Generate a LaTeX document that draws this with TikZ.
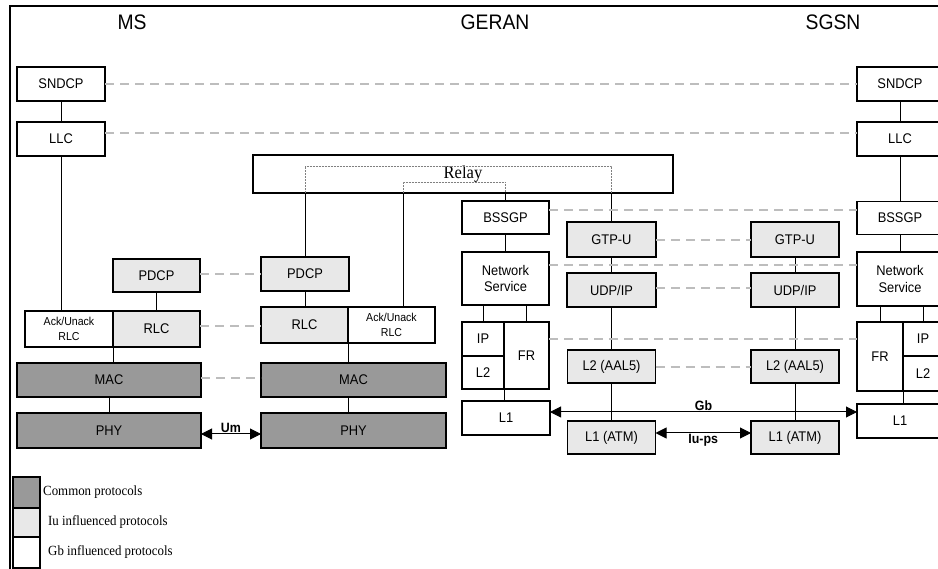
\documentclass[tikz,border=0pt]{standalone}
\usepackage{fontspec}
\setmainfont[FakeStretch=0.92]{Liberation Serif}
\setsansfont[FakeStretch=0.92]{Liberation Sans}
\usepackage{tikz}
\usetikzlibrary{arrows.meta,calc,positioning}
\definecolor{cmgray}{HTML}{999999}
\definecolor{iugray}{HTML}{E8E8E8}
\definecolor{peergray}{HTML}{BDBDBD}
\tikzset{
  pbox/.style={draw, line width=1.3pt, inner sep=0pt, outer sep=0pt, fill=white, align=center,
    font=\sffamily\fontsize{14}{16.5}\selectfont},
  iubox/.style={pbox, fill=iugray},
  cmbox/.style={pbox, fill=cmgray},
  small/.style={font=\sffamily\fontsize{11.5}{14.5}\selectfont},
  peer/.style={draw=peergray, line width=1.6pt, dash pattern=on 9pt off 6pt},
  link/.style={line width=1pt},
  relayln/.style={gray, line width=0.5pt, densely dotted},
  iface/.style={line width=1pt, {Triangle[length=11pt,width=11pt]}-{Triangle[length=11pt,width=11pt]}},
  lbl/.style={font=\sffamily\bfseries\fontsize{13.5}{15}\selectfont, inner sep=1pt},
  ttl/.style={font=\sffamily\fontsize{21}{23}\selectfont},
  leg/.style={font=\rmfamily\fontsize{14}{15}\selectfont, inner sep=0pt},
}

\begin{document}
\begin{tikzpicture}[x=1pt, y=-1pt]
    \useasboundingbox (0,0) rectangle (938,569);
    % frame and titles
    \draw[line width=1.5pt] (10,569) -- (10,6) -- (938,6);
    \node[ttl] (t_ms) at (132,22) {MS};
    \node[ttl] (t_geran) at (495,22) {GERAN};
    \node[ttl] (t_sgsn) at (833,22) {SGSN};

    % MS stack
    \node[pbox, minimum width=88pt, minimum height=34pt] (ms_sndcp) at (61,84) {SNDCP};
    \node[pbox, minimum width=88pt, minimum height=34pt] (ms_llc) at (61,139) {LLC};
    \node[iubox, minimum width=87pt, minimum height=33pt] (ms_pdcp) at (156.5,275.5) {PDCP};
    \node[pbox, small, minimum width=88pt, minimum height=36pt] (ms_ack) at (69,329) {Ack/Unack\\RLC};
    \node[iubox, minimum width=87pt, minimum height=36pt] (ms_rlc) at (156.5,329) {RLC};
    \node[cmbox, minimum width=184pt, minimum height=34pt] (ms_mac) at (109,380) {MAC};
    \node[cmbox, minimum width=184pt, minimum height=35pt] (ms_phy) at (109,430.5) {PHY};

    % GERAN radio side
    \node[pbox, font=\rmfamily\fontsize{18}{19}\selectfont, minimum width=420pt, minimum height=38pt] (g_relay) at (463,174) {Relay};
    \node[iubox, minimum width=88pt, minimum height=34pt] (g_pdcp) at (305,274) {PDCP};
    \node[iubox, minimum width=87pt, minimum height=36pt] (g_rlc) at (304.5,325) {RLC};
    \node[pbox, small, minimum width=87pt, minimum height=36pt] (g_ack) at (391.5,325) {Ack/Unack\\RLC};
    \node[cmbox, minimum width=185pt, minimum height=34pt] (g_mac) at (353.5,380) {MAC};
    \node[cmbox, minimum width=185pt, minimum height=35pt] (g_phy) at (353.5,430.5) {PHY};

    % GERAN Gb side
    \node[pbox, minimum width=87pt, minimum height=33pt] (g_bssgp) at (505.5,217.5) {BSSGP};
    \node[pbox, minimum width=87pt, minimum height=53pt] (g_ns) at (505.5,278.5) {Network\\Service};
    \node[pbox, minimum width=42pt, minimum height=34pt] (g_ip) at (483,339) {IP};
    \node[pbox, minimum width=42pt, minimum height=33pt] (g_l2) at (483,372.5) {L2};
    \node[pbox, minimum width=45pt, minimum height=67pt] (g_fr) at (526.5,355.5) {FR};
    \node[pbox, minimum width=88pt, minimum height=34pt] (g_l1) at (506,418) {L1};

    % GERAN Iu side
    \node[iubox, minimum width=89pt, minimum height=35pt] (g_gtpu) at (611.5,239.5) {GTP-U};
    \node[iubox, minimum width=89pt, minimum height=34pt] (g_udp) at (611.5,290) {UDP/IP};
    \node[iubox, minimum width=88pt, minimum height=33pt] (g_l2a) at (611.5,366.5) {L2 (AAL5)};
    \node[iubox, minimum width=88pt, minimum height=33pt] (g_l1a) at (611.5,437.5) {L1 (ATM)};

    % SGSN Iu side
    \node[iubox, minimum width=88pt, minimum height=35pt] (s_gtpu) at (795,239.5) {GTP-U};
    \node[iubox, minimum width=88pt, minimum height=34pt] (s_udp) at (795,290) {UDP/IP};
    \node[iubox, minimum width=88pt, minimum height=33pt] (s_l2a) at (795,366.5) {L2 (AAL5)};
    \node[iubox, minimum width=88pt, minimum height=33pt] (s_l1a) at (795,437.5) {L1 (ATM)};

    % SGSN Gb side
    \node[pbox, minimum width=86pt, minimum height=34pt] (s_sndcp) at (900,84) {SNDCP};
    \node[pbox, minimum width=86pt, minimum height=34pt] (s_llc) at (900,139) {LLC};
    \node[pbox, minimum width=86pt, minimum height=33pt] (s_bssgp) at (900,218) {BSSGP};
    \node[pbox, minimum width=86pt, minimum height=54pt] (s_ns) at (900,279) {Network\\Service};
    \node[pbox, minimum width=46pt, minimum height=69pt] (s_fr) at (880,356.5) {FR};
    \node[pbox, minimum width=40pt, minimum height=34pt] (s_ip) at (923,339) {IP};
    \node[pbox, minimum width=40pt, minimum height=35pt] (s_l2) at (923,373.5) {L2};
    \node[pbox, minimum width=86pt, minimum height=34pt] (s_l1) at (900,421) {L1};

    % layer links
    \foreach \a/\b in {ms_sndcp/ms_llc, ms_pdcp/ms_rlc, ms_mac/ms_phy, g_bssgp/g_ns,
        g_gtpu/g_udp, g_udp/g_l2a, g_l2a/g_l1a, s_gtpu/s_udp, s_udp/s_l2a, s_l2a/s_l1a,
        s_sndcp/s_llc, s_llc/s_bssgp, s_bssgp/s_ns} {
        \draw[link] (\a) -- (\b);
    }
    \draw[link] (ms_llc) -- (ms_llc |- ms_ack.north);
    \draw[link] (ms_rlc.south west) -- (ms_rlc.south west |- ms_mac.north);
    \draw[link] (g_pdcp) -- (g_pdcp |- g_rlc.north);
    \draw[link] (g_rlc.south east) -- (g_rlc.south east |- g_mac.north);
    \draw[link] (g_mac.south -| g_rlc.south east) -- (g_phy.north -| g_rlc.south east);
    \draw[link] (g_ns.south -| g_ip) -- (g_ip);
    \draw[link] (g_ns.south -| g_fr) -- (g_fr);
    \draw[link] (g_l2.south east) -- (g_l2.south east |- g_l1.north);
    \draw[link] (s_ns.south -| s_fr) -- (s_fr);
    \draw[link] (s_ns.south -| s_ip) -- (s_ip);
    \draw[link] (s_l2.south west) -- (s_l2.south west |- s_l1.north);

    % relay paths
    \coordinate (rx) at (403,0);
    \draw[link] (g_relay.south -| g_pdcp) -- (g_pdcp);
    \draw[link] (g_relay.south -| rx) -- (g_ack.north -| rx);
    \draw[link] (g_relay.south -| g_bssgp) -- (g_bssgp);
    \draw[link] (g_relay.south -| g_gtpu) -- (g_gtpu);
    \draw[relayln] (g_relay.south -| g_pdcp) -- ++(0,-27) -| (g_relay.south -| g_gtpu);
    \draw[relayln] (g_relay.south -| rx) -- ++(0,-11) -| (g_relay.south -| g_bssgp);

    % peer protocols
    \foreach \a/\b/\y in {ms_sndcp/s_sndcp/84, ms_llc/s_llc/133, ms_pdcp/g_pdcp/274,
        ms_rlc/g_rlc/326, ms_mac/g_mac/378, g_bssgp/s_bssgp/210, g_ns/s_ns/265,
        g_fr/s_fr/339, g_gtpu/s_gtpu/240, g_udp/s_udp/288, g_l2a/s_l2a/367} {
        \draw[peer] (\a.east |- 0,\y) -- (\b.west |- 0,\y);
    }

    % interfaces
    \coordinate (umL) at ($(ms_phy.east)+(0,3.5)$);
    \draw[iface] (umL) -- (umL -| g_phy.west) node[midway, above, lbl] {Um};
    \coordinate (gbL) at ($(g_l1.east)+(0,-6)$);
    \draw[iface] (gbL) -- (gbL -| s_l1.west) node[midway, above, lbl] {Gb};
    \coordinate (iuL) at ($(g_l1a.east)+(0,-4.5)$);
    \draw[iface] (iuL) -- (iuL -| s_l1a.west) node[midway, below, lbl] {Iu-ps};

    % legend
    \node[cmbox, line width=1.2pt, minimum width=27pt, minimum height=31pt] (leg_cm) at (26.5,492.5) {};
    \node[iubox, line width=1.2pt, minimum width=27pt, minimum height=29pt] (leg_iu) at (26.5,522.5) {};
    \node[pbox, line width=1.2pt, minimum width=27pt, minimum height=31pt] (leg_gb) at (26.5,552.5) {};
    \node[leg, right=3pt of leg_cm] (leg_cm_t) {Common protocols};
    \node[leg, right=8pt of leg_iu] (leg_iu_t) {Iu influenced protocols};
    \node[leg, right=8pt of leg_gb] (leg_gb_t) {Gb influenced protocols};
\end{tikzpicture}
\end{document}
